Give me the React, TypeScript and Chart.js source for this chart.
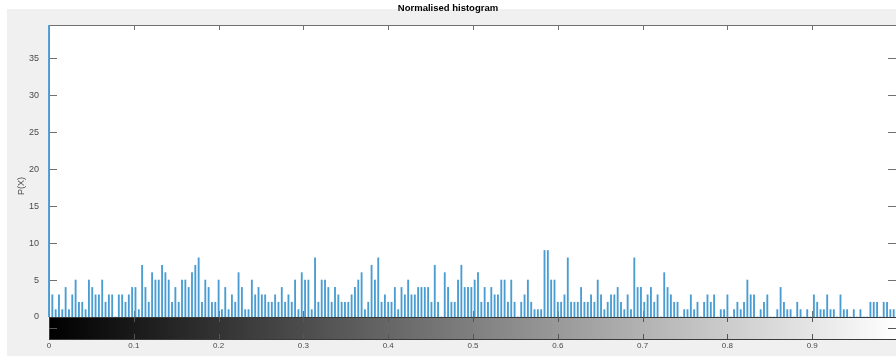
import React, { useEffect, useRef } from "react";
import { Chart, registerables } from "chart.js";

Chart.register(...registerables);

// ---- Data (256 histogram bins, intensity 0..1) ----
const TITLE = "Normalised histogram";
const Y_LABEL = "P(X)";

const countsBins000to054 = [
  40, 3, 1, 3, 1, 4, 1, 3, 5, 2, 2,
  1, 5, 4, 3, 3, 5, 2, 3, 3, 0,
  3, 3, 2, 3, 4, 4, 1, 7, 4, 2,
  6, 5, 5, 7, 6, 5, 2, 4, 2, 5,
  5, 4, 6, 7, 8, 2, 5, 4, 2, 2,
  5, 1, 4, 1,
];
const countsBins055to117 = [
  3, 2, 6, 4, 1, 1, 5, 3, 4, 3,
  3, 2, 2, 3, 2, 4, 2, 3, 2, 5,
  1, 6, 5, 5, 1, 8, 2, 5, 5, 4,
  2, 4, 3, 2, 2, 2, 3, 4, 5, 6,
  1, 2, 7, 5, 8, 2, 3, 2, 2, 4,
  1, 4, 3, 5, 3, 3, 4, 4, 4, 4,
  2, 7, 2,
];
const countsBins118to177 = [
  0, 6, 4, 2, 2, 5, 7, 4, 4, 4,
  5, 6, 2, 4, 2, 4, 3, 3, 5, 5,
  2, 5, 2, 0, 2, 3, 5, 2, 1, 1,
  1, 9, 9, 5, 5, 2, 2, 3, 8, 2,
  2, 2, 4, 2, 2, 3, 2, 5, 3, 1,
  2, 3, 3, 4, 2, 1, 3, 1, 8, 4,
];
const countsBins178to255 = [
  4, 2, 3, 4, 2, 3, 0, 6, 4, 3,
  2, 2, 0, 1, 1, 3, 1, 2, 0, 2,
  3, 2, 3, 0, 1, 1, 3, 0, 1, 2,
  1, 2, 5, 3, 3, 0, 1, 2, 3, 0,
  0, 1, 4, 2, 1, 1, 0, 2, 1, 0,
  1, 0, 3, 2, 1, 1, 3, 1, 1, 0,
  3, 1, 1, 0, 1, 0, 1, 0, 0, 2,
  2, 2, 0, 2, 2, 1, 1, 1,
];

const counts = [
  ...countsBins000to054,
  ...countsBins055to117,
  ...countsBins118to177,
  ...countsBins178to255,
];
const binCenters = counts.map((_, i) => i / (counts.length - 1));

const xTickValues = [0, 0.1, 0.2, 0.3, 0.4, 0.5, 0.6, 0.7, 0.8, 0.9];
const xTickLabels = ["0", "0.1", "0.2", "0.3", "0.4", "0.5", "0.6", "0.7", "0.8", "0.9"];
const yTickValues = [0, 5, 10, 15, 20, 25, 30, 35];

const Y_MAX = 39.5;
const X_VISIBLE_MAX = 0.9988;

const FONT = "'Liberation Sans', Arial, sans-serif";
const STEM_COLOR = "#4a9dd3";
const AXIS_COLOR = "#707070";
const TEXT_COLOR = "#4a4a4a";

const decorPlugin = {
  id: "matlabDecor",
  beforeDraw(chart: any) {
    const { ctx, width, height, chartArea } = chart;
    ctx.save();
    ctx.fillStyle = "#ffffff";
    ctx.fillRect(0, 0, width, height);
    ctx.fillStyle = "#f0f0f0";
    ctx.fillRect(7, 9, width - 7, height - 9);
    ctx.fillStyle = "#ffffff";
    ctx.fillRect(chartArea.left, chartArea.top, chartArea.right - chartArea.left + 2, chartArea.bottom - chartArea.top);
    ctx.restore();
  },
  beforeDatasetsDraw(chart: any) {
    const { ctx, chartArea, scales } = chart;
    const xs = scales.x;
    const ys = scales.y;
    ctx.save();
    ctx.strokeStyle = AXIS_COLOR;
    ctx.lineWidth = 1;
    ctx.beginPath();
    ctx.moveTo(chartArea.left, chartArea.top + 0.5);
    ctx.lineTo(chartArea.right + 2, chartArea.top + 0.5);
    ctx.moveTo(chartArea.left + 0.5, chartArea.top);
    ctx.lineTo(chartArea.left + 0.5, chartArea.bottom);
    ctx.stroke();
    ctx.beginPath();
    xTickValues.forEach((v) => {
      if (v === 0) return;
      const px = Math.round(xs.getPixelForValue(v)) + 0.5;
      ctx.moveTo(px, chartArea.top);
      ctx.lineTo(px, chartArea.top + 5);
      ctx.moveTo(px, chartArea.bottom);
      ctx.lineTo(px, chartArea.bottom - 6);
    });
    yTickValues.forEach((v) => {
      if (v === 0) return;
      const py = Math.round(ys.getPixelForValue(v)) + 0.5;
      ctx.moveTo(chartArea.left, py);
      ctx.lineTo(chartArea.left + 8, py);
      ctx.moveTo(chartArea.right, py);
      ctx.lineTo(chartArea.right - 8, py);
    });
    ctx.stroke();
    ctx.restore();
  },
  afterDraw(chart: any) {
    const { ctx, chartArea, scales } = chart;
    const xs = scales.x;
    ctx.save();
    const x0 = xs.getPixelForValue(0);
    const x1 = xs.getPixelForValue(1);
    const top = chartArea.bottom;
    const bottom = chartArea.bottom + 22;
    const grad = ctx.createLinearGradient(x0, 0, x1, 0);
    grad.addColorStop(0, "#000000");
    grad.addColorStop(1, "#ffffff");
    ctx.fillStyle = grad;
    ctx.fillRect(x0, top, x1 - x0, bottom - top);
    ctx.strokeStyle = "#3a3a3a";
    ctx.lineWidth = 1;
    ctx.strokeRect(x0 + 0.5, top + 0.5, x1 - x0, bottom - top);
    ctx.strokeStyle = "#555555";
    ctx.beginPath();
    xTickValues.forEach((v) => {
      if (v === 0) return;
      const px = Math.round(xs.getPixelForValue(v)) + 0.5;
      ctx.moveTo(px, top);
      ctx.lineTo(px, top + 5);
      ctx.moveTo(px, bottom);
      ctx.lineTo(px, bottom - 5);
    });
    ctx.moveTo(chartArea.left, top + 11.5);
    ctx.lineTo(chartArea.left + 8, top + 11.5);
    ctx.moveTo(chartArea.right, top + 11.5);
    ctx.lineTo(chartArea.right - 8, top + 11.5);
    ctx.stroke();

    ctx.fillStyle = "#000000";
    ctx.font = `bold 9.5px ${FONT}`;
    ctx.textAlign = "center";
    ctx.textBaseline = "middle";
    ctx.fillText(TITLE, 448, 8);

    ctx.fillStyle = TEXT_COLOR;
    ctx.font = `9px ${FONT}`;
    ctx.translate(22, 186);
    ctx.rotate(-Math.PI / 2);
    ctx.fillText(Y_LABEL, 0, 0);
    ctx.restore();
  },
};

export default function App() {
  const canvasRef = useRef<HTMLCanvasElement | null>(null);

  useEffect(() => {
    const canvas = canvasRef.current;
    if (!canvas) return;
    const chart = new Chart(canvas, {
      type: "bar",
      data: {
        datasets: [
          {
            label: "counts",
            data: binCenters.map((x, i) => ({ x, y: counts[i] })),
            backgroundColor: STEM_COLOR,
            borderWidth: 0,
            barThickness: 1.2,
            clip: { left: 2, top: 0, right: 0, bottom: 0 } as any,
          },
        ],
      },
      options: {
        responsive: false,
        animation: false,
        devicePixelRatio: 1,
        layout: { padding: { left: 0, top: 25, right: 0, bottom: 0 } },
        plugins: {
          legend: { display: false },
          tooltip: { enabled: false },
          title: { display: false },
        },
        scales: {
          x: {
            type: "linear",
            min: 0,
            max: X_VISIBLE_MAX,
            offset: false,
            grid: { display: false, drawTicks: false },
            border: { display: false },
            afterFit: (scale: any) => {
              scale.height = 39;
            },
            afterBuildTicks: (scale: any) => {
              scale.ticks = xTickValues.map((v) => ({ value: v }));
            },
            ticks: {
              padding: 24,
              maxRotation: 0,
              autoSkip: false,
              color: TEXT_COLOR,
              font: { family: FONT, size: 8 },
              callback: (value: any) => {
                const idx = xTickValues.findIndex((v) => Math.abs(v - Number(value)) < 1e-6);
                return idx >= 0 ? xTickLabels[idx] : "";
              },
            },
          },
          y: {
            type: "linear",
            min: 0,
            max: Y_MAX,
            grid: { display: false, drawTicks: false },
            border: { display: false },
            afterFit: (scale: any) => {
              scale.width = 49;
            },
            afterBuildTicks: (scale: any) => {
              scale.ticks = yTickValues.map((v) => ({ value: v }));
            },
            ticks: {
              padding: 10,
              color: TEXT_COLOR,
              font: { family: FONT, size: 9 },
              callback: (value: any) => String(value),
            },
          },
        },
      },
      plugins: [decorPlugin],
    } as any);
    return () => chart.destroy();
  }, []);

  return (
    <div style={{ position: "absolute", left: 0, top: 0, width: 896, height: 356 }}>
      <canvas ref={canvasRef} width={896} height={356} style={{ display: "block" }} />
    </div>
  );
}
